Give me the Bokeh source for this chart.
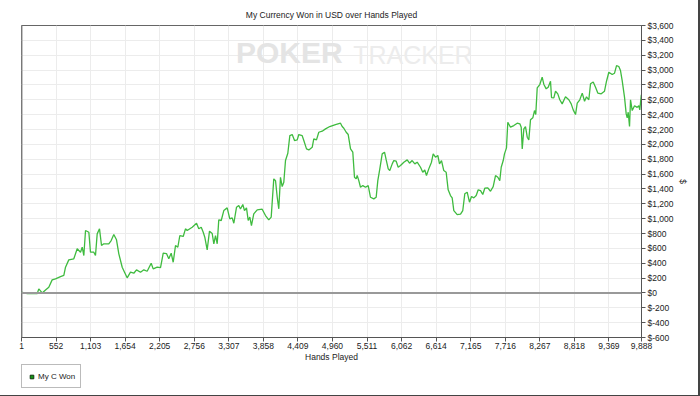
from bokeh.plotting import figure
from bokeh.layouts import column
from bokeh.models import (Range1d, FixedTicker, NumeralTickFormatter, CustomJSTickFormatter,
                          LinearAxis, Legend, LegendItem, Span, Label)
from bokeh.embed import file_html
from bokeh.resources import INLINE

# ---- data ----
hands = [1, 92, 251, 277, 331, 384, 436, 490, 543, 623, 676, 703, 755, 835, 889, 942, 969, 995,
         1022, 1075, 1101, 1154, 1181, 1208, 1245, 1277, 1313, 1393, 1431, 1473, 1516, 1553, 1607,
         1644, 1686, 1739, 1792, 1835, 1899, 1952, 2005, 2069, 2101, 2165, 2218, 2261, 2313, 2350,
         2388, 2420, 2457, 2494, 2526, 2580, 2616, 2643, 2723, 2792, 2828, 2867, 2899, 2924, 2962,
         2999, 3042, 3068, 3095, 3122, 3147, 3186, 3227, 3281, 3323, 3361, 3387, 3430, 3466, 3493,
         3530, 3557, 3589, 3616, 3642, 3668, 3705, 3760, 3839, 3892, 3944, 3983, 4024, 4052, 4079,
         4104, 4131, 4158, 4184, 4211, 4248, 4280, 4318, 4355, 4398, 4423, 4477, 4503, 4546, 4583,
         4637, 4662, 4705, 4742, 4796, 4849, 4917, 5008, 5088, 5115, 5141, 5179, 5211, 5248, 5284,
         5311, 5338, 5354, 5380, 5407, 5444, 5487, 5530, 5566, 5619, 5657, 5683, 5715, 5753, 5790,
         5817, 5849, 5874, 5913, 5938, 5976, 6008, 6045, 6098, 6152, 6189, 6231, 6273, 6311, 6364,
         6400, 6432, 6459, 6496, 6539, 6566, 6603, 6640, 6667, 6699, 6735, 6773, 6805, 6842, 6869,
         6895, 6949, 7002, 7038, 7070, 7108, 7145, 7177, 7214, 7252, 7284, 7321, 7357, 7389, 7437,
         7480, 7523, 7560, 7597, 7628, 7651, 7683, 7703, 7735, 7756, 7799, 7852, 7906, 7948, 7970,
         7986, 8012, 8038, 8066, 8091, 8118, 8155, 8182, 8202, 8225, 8266, 8304, 8330, 8368, 8400,
         8437, 8453, 8490, 8517, 8553, 8585, 8623, 8676, 8729, 8767, 8799, 8836, 8863, 8904, 8943,
         8980, 9011, 9048, 9075, 9118, 9155, 9191, 9246, 9298, 9330, 9367, 9421, 9458, 9490, 9526,
         9553, 9580, 9617, 9644, 9660, 9676, 9697, 9713, 9740, 9777, 9819, 9845, 9861, 9883, 9888]
won = [10, -10, -10, 55, 0, 40, 77, 176, 190, 220, 235, 346, 445, 459, 594, 548, 615, 503,
       840, 817, 548, 548, 503, 795, 863, 638, 661, 661, 705, 786, 715, 526, 346,
       279, 203, 279, 265, 311, 279, 311, 292, 400, 324, 346, 340, 535, 530, 459,
       535, 413, 638, 615, 773, 760, 863, 840, 885, 938, 863, 885, 817, 750, 580,
       831, 800, 661, 773, 661, 984, 975, 1109, 1145, 997, 1010, 938, 1154, 1176, 1130,
       1190, 1109, 1145, 975, 1020, 907, 1065, 1118, 1127, 1042, 984, 1020, 1535, 1510, 1288,
       1132, 1557, 1432, 1490, 1782, 1880, 2118, 2132, 2051, 2060, 2132, 2118, 2051, 1939, 1925,
       1960, 2074, 2060, 2163, 2177, 2208, 2240, 2267, 2285, 2240, 2217, 2163, 2132, 1939, 1895,
       1557, 1535, 1580, 1512, 1423, 1445, 1423, 1445, 1288, 1266, 1288, 1512, 1670, 1872, 1895,
       1791, 1670, 1647, 1737, 1782, 1773, 1692, 1715, 1760, 1791, 1746, 1782, 1737, 1760, 1692,
       1625, 1655, 1580, 1670, 1760, 1872, 1827, 1850, 1737, 1782, 1647, 1625, 1388, 1311, 1280,
       1109, 1055, 1060, 1109, 1334, 1356, 1221, 1298, 1280, 1311, 1388, 1378, 1325, 1410, 1414,
       1369, 1432, 1580, 1557, 1512, 1692, 1782, 1872, 1953, 2298, 2231, 2253, 2285, 2276, 2231,
       1939, 2208, 2240, 2096, 2060, 2330, 2357, 2455, 2401, 2760, 2805, 2904, 2810, 2747, 2770,
       2850, 2630, 2626, 2715, 2680, 2600, 2545, 2640, 2600, 2545, 2464, 2401, 2555, 2600, 2690,
       2580, 2640, 2600, 2815, 2840, 2770, 2690, 2680, 2715, 2850, 2971, 2940, 2958, 3061, 3048,
       2993, 2859, 2635, 2410, 2357, 2433, 2240, 2600, 2455, 2520, 2498, 2520, 2464, 2655, 2670]

x_ticks = [1, 552, 1103, 1654, 2205, 2756, 3307, 3858, 4409, 4960, 5511, 6062, 6614, 7165,
           7716, 8267, 8818, 9369, 9888]
y_ticks = list(range(-600, 3601, 200))
series_name = "My C Won"
title_text = "My Currency Won in USD over Hands Played"

FONT = "Liberation Sans"

p = figure(frame_width=620, frame_height=312, output_backend="svg", toolbar_location=None,
           x_range=Range1d(1, 9888), y_range=Range1d(-600, 3600),
           min_border_left=21, min_border_right=57, min_border_top=25, min_border_bottom=0,
           y_axis_location=None, x_axis_location=None)
p.background_fill_color = "white"
p.border_fill_color = "white"
p.outline_line_color = "#666666"
p.outline_line_width = 1

p.title.text = title_text
p.title.text_font = FONT
p.title.text_font_size = "8.5px"
p.title.text_font_style = "normal"
p.title.text_color = "#222222"
p.title.align = "center"
p.title.standoff = 11

# axes
xax = LinearAxis(ticker=FixedTicker(ticks=x_ticks), formatter=NumeralTickFormatter(format="0,0"),
                 axis_label="Hands Played")
yax = LinearAxis(ticker=FixedTicker(ticks=y_ticks),
                 formatter=CustomJSTickFormatter(code="return '$' + tick.toLocaleString('en-US');"),
                 axis_label="$")
for ax in (xax, yax):
    ax.axis_line_color = "#555555"
    ax.major_tick_line_color = "#555555"
    ax.major_tick_out = 4
    ax.major_tick_in = 0
    ax.minor_tick_line_color = None
    ax.major_label_text_font = FONT
    ax.major_label_text_font_size = "8.5px"
    ax.major_label_text_color = "#222222"
    ax.axis_label_text_font = FONT
    ax.axis_label_text_font_size = "8.5px"
    ax.axis_label_text_font_style = "normal"
    ax.axis_label_text_color = "#222222"
    ax.major_label_standoff = 2
xax.major_label_standoff = 1
xax.axis_label_standoff = 0
yax.axis_label_standoff = 2
p.add_layout(xax, "below")
p.add_layout(yax, "right")

p.xgrid.ticker = FixedTicker(ticks=x_ticks)
p.ygrid.ticker = FixedTicker(ticks=y_ticks)
p.xgrid.grid_line_color = "#ececec"
p.ygrid.grid_line_color = "#ececec"

# watermark
p.add_layout(Label(x=3420, y=3010, text="POKER", text_font=FONT, text_font_size="30px",
                   text_font_style="bold", text_color="#e4e4e4", level="underlay"))
p.add_layout(Label(x=5290, y=3010, text="TRACKER", text_font=FONT, text_font_size="25px",
                   text_color="#ececec", level="underlay"))

# left gray edge and zero line
p.add_layout(Span(location=1, dimension="height", line_color="#8a8a8a", line_width=2))
p.add_layout(Span(location=0, dimension="width", line_color="#999999", line_width=2))

p.line(hands, won, line_color="#3fbb3f", line_width=1.3)

# legend strip below the chart
p2 = figure(width=698, height=31, output_backend="svg", toolbar_location=None,
            x_range=Range1d(0, 1), y_range=Range1d(0, 1), min_border=0,
            x_axis_location=None, y_axis_location=None)
p2.grid.visible = False
p2.outline_line_color = None
p2.background_fill_color = "white"
p2.border_fill_color = "white"
swatch = p2.scatter([float("nan")], [float("nan")], marker="square", size=8,
                    fill_color="#119911", line_color="#113311")
legend = Legend(items=[LegendItem(label=series_name, renderers=[swatch])],
                location=(0, 7), orientation="vertical")
legend.label_text_font = FONT
legend.label_text_font_size = "8px"
legend.label_text_color = "#222222"
legend.glyph_width = 9
legend.glyph_height = 9
legend.label_standoff = 2
legend.padding = 5
legend.margin = 0
legend.spacing = 0
legend.border_line_color = "#777777"
legend.border_line_width = 1
legend.background_fill_color = "white"
legend.label_height = 12
p2.add_layout(legend, "center")

layout = column(p, p2, spacing=0,
                styles={"border-right": "2px solid #444444", "border-bottom": "2px solid #444444"})
open("out.html", "w").write(file_html(layout, INLINE))
